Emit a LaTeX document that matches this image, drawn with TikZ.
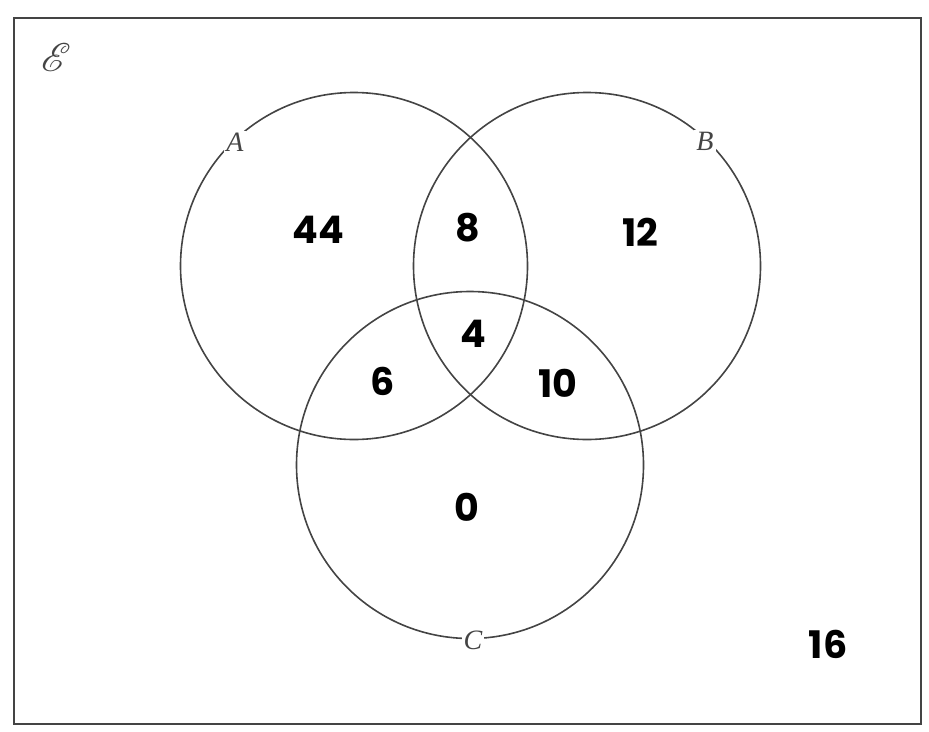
\documentclass[tikz,border=0pt]{standalone}
\usepackage{fontspec}
\usepackage{mathrsfs}
\newfontfamily\numfont{Poppins}
\newfontfamily\labfont{Liberation Serif}
\definecolor{linegray}{HTML}{444444}
\definecolor{labgray}{HTML}{444444}
\begin{document}
\begin{tikzpicture}[x=1pt,y=-1pt,
  setcircle/.style={draw=linegray,line width=1.6pt},
  setlabel/.style={fill=white,inner sep=2pt,text=labgray,font=\labfont\itshape\fontsize{28}{28}\selectfont},
  count/.style={font=\numfont\bfseries\fontsize{38}{38}\selectfont,inner sep=0pt}]
\useasboundingbox (0,0) rectangle (929,731);
\node[draw=linegray,line width=2pt,minimum width=907pt,minimum height=706pt,inner sep=0pt] (frame) at (467.5,371) {};
\node[text=labgray,inner sep=0pt] (univ) at (56,57) {\scalebox{4}{$\mathscr{E}$}};
\node[setcircle,circle,minimum size=347pt,inner sep=0pt] (A) at (354,266) {};
\node[setcircle,circle,minimum size=347pt,inner sep=0pt] (B) at (587,266) {};
\node[setcircle,circle,minimum size=347pt,inner sep=0pt] (C) at (470,465) {};
\node[setlabel] (la) at (235,142) {A};
\node[setlabel] (lb) at (705,141) {B};
\node[setlabel] (lc) at (473,640) {C};
\node[count] (n44) at (318,230) {44};
\node[count] (n8) at (468,228) {8};
\node[count] (n12) at (640,232) {12};
\node[count] (n4) at (473,334) {4};
\node[count] (n6) at (383,381) {6};
\node[count] (n10) at (558,383) {10};
\node[count] (n0) at (467,507) {0};
\node[count] (n16) at (828,644) {16};
\end{tikzpicture}
\end{document}
